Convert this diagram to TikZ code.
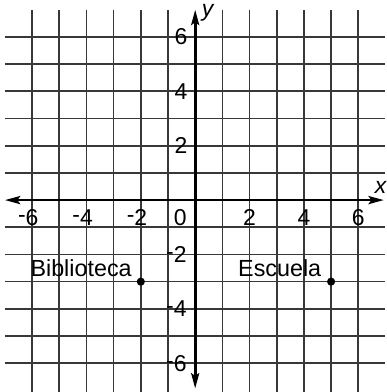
\documentclass[tikz,border=0pt]{standalone}
\usepackage{fontspec}
\setmainfont{Liberation Sans}
\usetikzlibrary{arrows.meta,positioning}
\tikzset{
	rejilla/.style={line width=0.9pt, color=black!78},
	eje/.style={line width=1.4pt, {Stealth[length=8pt,width=4.2pt,inset=1.5pt]}-{Stealth[length=8pt,width=4.2pt,inset=1.5pt]}},
	numero/.style={inner sep=0pt, font=\fontsize{12}{12}\selectfont},
	lugar/.style={inner sep=0pt, font=\fontsize{12.2}{12}\selectfont},
	punto/.style={fill=black}
}

\begin{document}
\begin{tikzpicture}[x=0.5cm, y=0.5cm]
			%%%%% START %%%%%
			\useasboundingbox (-7.18, -7.06) rectangle (7.05, 7.36);
			
			% vertical lines
			\draw[rejilla] (-6, -7.1) -- (-6, 7);
			\draw[rejilla] (-5, -7.1) -- (-5, 7);
			\draw[rejilla] (-4, -7.1) -- (-4, 7);
			\draw[rejilla] (-3, -7.1) -- (-3, 7);
			\draw[rejilla] (-2, -7.1) -- (-2, 7);
			\draw[rejilla] (-1, -7.1) -- (-1, 7);
			\draw[rejilla] (1, -7.1) -- (1, 7);
			\draw[rejilla] (2, -7.1) -- (2, 7);
			\draw[rejilla] (3, -7.1) -- (3, 7);
			\draw[rejilla] (4, -7.1) -- (4, 7);
			\draw[rejilla] (5, -7.1) -- (5, 7);
			\draw[rejilla] (6, -7.1) -- (6, 7);
			
			% horizontal lines
			\draw[rejilla] (-7, 6) -- (7, 6);
			\draw[rejilla] (-7, 5) -- (7, 5);
			\draw[rejilla] (-7, 4) -- (7, 4);
			\draw[rejilla] (-7, 3) -- (7, 3);
			\draw[rejilla] (-7, 2) -- (7, 2);
			\draw[rejilla] (-7, 1) -- (7, 1);
			\draw[rejilla] (-7, -1) -- (7, -1);
			\draw[rejilla] (-7, -2) -- (7, -2);
			\draw[rejilla] (-7, -3) -- (7, -3);
			\draw[rejilla] (-7, -4) -- (7, -4);
			\draw[rejilla] (-7, -5) -- (7, -5);
			\draw[rejilla] (-7, -6) -- (7, -6);
			
			% axes
			\coordinate (xizq) at (-7, 0);
			\coordinate (xder) at (6.94, 0);
			\coordinate (yarr) at (0, 7);
			\coordinate (yab) at (0, -6.93);
			\draw[eje] (xizq) -- (xder);
			\draw[eje] (yab) -- (yarr);
			\node[numero, font=\fontsize{12}{12}\selectfont\itshape] (ex) at (6.82, 0.48) {x};
			\node[numero, font=\fontsize{12}{12}\selectfont\itshape] (ye) at (0.46, 6.87) {y};
			
			% numbers on x
			\node[numero] (xm6) at (-6, -0.63) {\llap{\raisebox{0.25ex}{-}}6};
			\node[numero] (xm4) at (-4, -0.63) {\llap{\raisebox{0.25ex}{-}}4};
			\node[numero] (xm2) at (-2, -0.63) {\llap{\raisebox{0.25ex}{-}}2};
			\node[numero] (x0) at (-0.55, -0.63) {0};
			\node[numero] (x2) at (2, -0.63) {2};
			\node[numero] (x4) at (4, -0.63) {4};
			\node[numero] (x6) at (6, -0.63) {6};
			
			% numbers on y
			\node[numero] (y6) at (-0.52, 6) {6};
			\node[numero] (y4) at (-0.52, 4) {4};
			\node[numero] (y2) at (-0.52, 2) {2};
			\node[numero] (ym2) at (-0.55, -2) {\llap{\raisebox{0.25ex}{-}}2};
			\node[numero] (ym4) at (-0.55, -4) {\llap{\raisebox{0.25ex}{-}}4};
			\node[numero] (ym6) at (-0.55, -6) {\llap{\raisebox{0.25ex}{-}}6};
			
			% places
			\coordinate (bib) at (-2, -3);
			\coordinate (esc) at (5, -3);
			\fill[punto] (bib) circle (0.15);
			\fill[punto] (esc) circle (0.15);
			\node[lugar, above left=2.4pt and 4.6pt of bib] (biblioteca) {Biblioteca};
			\node[lugar, above left=2.4pt and 5pt of esc] (escuela) {Escuela};
			
			%%%%% END %%%%%
\end{tikzpicture}
\end{document}
